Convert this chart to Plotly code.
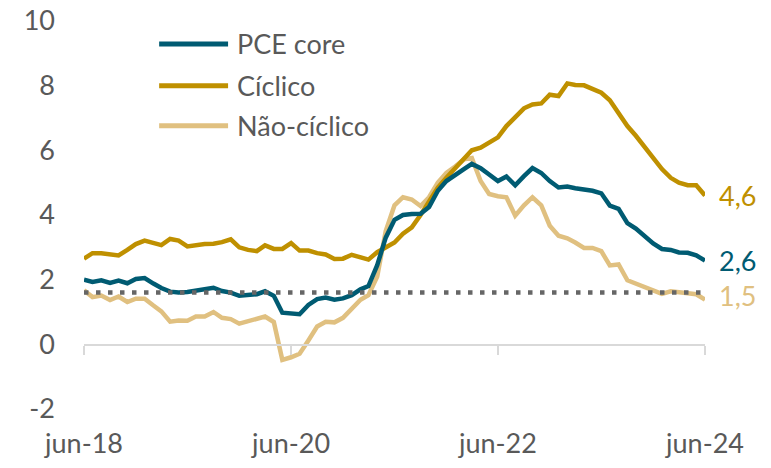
import pandas as pd
import plotly.graph_objects as go

# ---- data ----
start_month = "2018-06-01"
n_months = 73
pce_core = [2.00, 1.93, 1.98, 1.90, 1.97, 1.89, 2.02, 2.05, 1.88, 1.74,
            1.63, 1.60, 1.62, 1.66, 1.70, 1.75, 1.65, 1.60, 1.50, 1.53,
            1.55, 1.64, 1.50, 0.98, 0.97, 0.93, 1.22, 1.40, 1.45, 1.38,
            1.42, 1.52, 1.70, 1.80, 2.45, 3.30, 3.85, 4.00, 4.03, 4.04,
            4.25, 4.75, 5.05, 5.25, 5.42, 5.58, 5.45, 5.25, 5.05, 5.19,
            4.92, 5.20, 5.45, 5.30, 5.05, 4.85, 4.88, 4.83, 4.80, 4.75,
            4.67, 4.29, 4.19, 3.75, 3.58, 3.35, 3.12, 2.95, 2.92, 2.84,
            2.83, 2.75, 2.59]
ciclico = [2.65, 2.82, 2.82, 2.80, 2.75, 2.92, 3.10, 3.21, 3.15, 3.07,
           3.26, 3.21, 3.03, 3.08, 3.10, 3.11, 3.16, 3.25, 3.00, 2.92,
           2.88, 3.06, 2.95, 2.95, 3.13, 2.90, 2.90, 2.82, 2.78, 2.64,
           2.65, 2.77, 2.70, 2.62, 2.85, 3.00, 3.15, 3.42, 3.62, 4.00,
           4.45, 4.85, 5.15, 5.45, 5.78, 6.00, 6.08, 6.25, 6.40, 6.75,
           7.05, 7.30, 7.42, 7.45, 7.72, 7.68, 8.07, 8.02, 8.01, 7.88,
           7.78, 7.55, 7.15, 6.75, 6.45, 6.10, 5.73, 5.42, 5.15, 5.00,
           4.92, 4.92, 4.60]
nao_ciclico = [1.67, 1.46, 1.51, 1.37, 1.48, 1.31, 1.41, 1.41, 1.20, 1.02,
               0.70, 0.74, 0.73, 0.86, 0.86, 1.00, 0.82, 0.78, 0.64, 0.72,
               0.82, 0.86, 0.69, -0.48, -0.40, -0.29, 0.12, 0.55, 0.70, 0.68,
               0.82, 1.08, 1.38, 1.52, 2.10, 3.50, 4.30, 4.55, 4.48, 4.28,
               4.55, 5.00, 5.30, 5.50, 5.72, 5.76, 5.05, 4.65, 4.58, 4.55,
               3.98, 4.30, 4.55, 4.30, 3.67, 3.36, 3.28, 3.15, 2.98, 2.98,
               2.88, 2.44, 2.47, 1.98, 1.87, 1.77, 1.65, 1.56, 1.64, 1.61,
               1.60, 1.55, 1.38]
reference_level = 1.6
series_names = ["PCE core", "Cíclico", "Não-cíclico"]
end_labels = ["2,6", "4,6", "1,5"]
end_label_values = [2.6, 4.6, 1.5]
x_tick_dates = ["2018-06-01", "2020-06-01", "2022-06-01", "2024-06-01"]
x_tick_labels = ["jun-18", "jun-20", "jun-22", "jun-24"]
y_tick_values = [-2, 0, 2, 4, 6, 8, 10]
y_tick_labels = ["-2", "0", "2", "4", "6", "8", "10"]

# ---- styling ----
colors = ["#005B72", "#BF9000", "#E0C080"]
text_gray = "#595959"
font_family = "Lato"
fsize = 27

dates = pd.date_range(start_month, periods=n_months, freq="MS")
all_series = [pce_core, ciclico, nao_ciclico]

fig = go.Figure()

# reference dotted line
fig.add_trace(go.Scatter(
    x=[dates[0], dates[-1]], y=[reference_level, reference_level],
    xaxis="x2", yaxis="y", mode="lines",
    line=dict(color="#666666", width=4.5, dash="4.5px,7.5px"),
    hoverinfo="skip", showlegend=False))

for k in [2, 1, 0]:
    fig.add_trace(go.Scatter(
        x=dates, y=all_series[k], mode="lines", name=series_names[k],
        line=dict(color=colors[k], width=4.5), showlegend=False))

# end labels
for k in range(3):
    fig.add_annotation(x=dates[-1], y=end_label_values[k], xref="x", yref="y",
                       text=end_labels[k], showarrow=False, xanchor="left",
                       xshift=12, font=dict(family=font_family, size=fsize,
                                             color=colors[k]))

# custom legend (paper coordinates)
leg_y = [0.941, 0.833, 0.730]
for k in range(3):
    fig.add_shape(type="line", xref="paper", yref="paper",
                  x0=0.121, x1=0.232, y0=leg_y[k], y1=leg_y[k],
                  line=dict(color=colors[k], width=5))
    fig.add_annotation(x=0.243, y=leg_y[k], xref="paper", yref="paper",
                       text=series_names[k], showarrow=False, xanchor="left",
                       yanchor="middle",
                       font=dict(family=font_family, size=fsize, color=text_gray))

fig.update_layout(
    width=771, height=468,
    margin=dict(l=84, r=66, t=21, b=59, autoexpand=False),
    paper_bgcolor="white", plot_bgcolor="white",
    font=dict(family=font_family, size=fsize, color=text_gray),
    showlegend=False,
    xaxis=dict(range=[dates[0], dates[-1]], tickvals=x_tick_dates,
               ticktext=x_tick_labels, showgrid=False, zeroline=False,
               showline=False, ticks="", ticklabelstandoff=16, automargin=False,
               ticklabeloverflow="allow",
               tickfont=dict(size=fsize, color=text_gray)),
    xaxis2=dict(overlaying="x", matches="x", anchor="free", position=1/6,
                side="bottom", showline=True, linecolor="#D9D9D9", linewidth=1.5,
                ticks="outside", ticklen=9, tickwidth=1.5, tickcolor="#D9D9D9",
                tickvals=x_tick_dates, showticklabels=False, showgrid=False,
                zeroline=False, automargin=False),
    yaxis=dict(range=[-2, 10], tickvals=y_tick_values, ticktext=y_tick_labels,
               showgrid=False, zeroline=False, showline=False, ticks="",
               ticklabelstandoff=28, automargin=False, ticklabeloverflow="allow",
               tickfont=dict(size=fsize, color=text_gray)),
)

fig.write_html("out.html",
               config={"displayModeBar": False, "staticPlot": True},
               post_script="document.body.style.margin='0';")
